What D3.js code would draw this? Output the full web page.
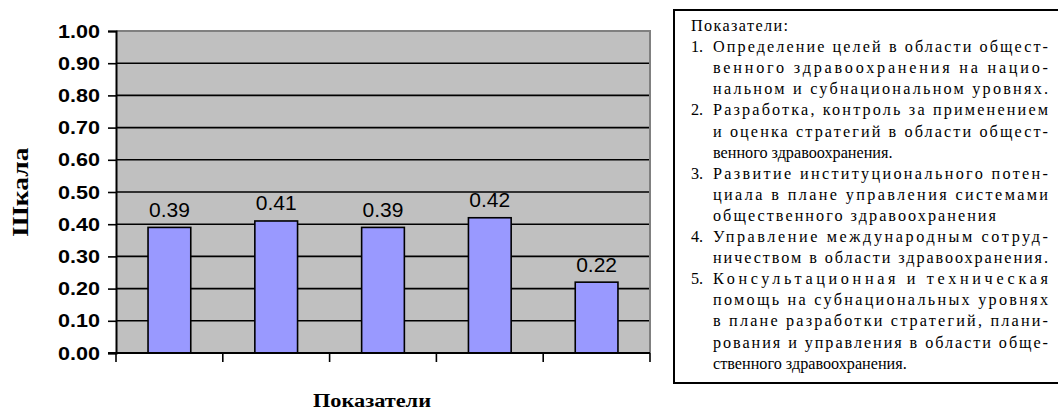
<!DOCTYPE html>
<html>
<head>
<meta charset="utf-8">
<script src="https://cdn.jsdelivr.net/npm/d3@7/dist/d3.min.js"></script>
<style>
  html, body { margin: 0; padding: 0; background: #fff; }
  svg { display: block; }
</style>
</head>
<body>
<svg id="chart" width="1058" height="411"></svg>
<script>
// Indicator numbers and their scores
const categories = ["1", "2", "3", "4", "5"];
const values = [0.39, 0.41, 0.39, 0.42, 0.22];
const yTickValues = [0, 0.1, 0.2, 0.3, 0.4, 0.5, 0.6, 0.7, 0.8, 0.9, 1.0];
const yTitle = "Шкала";
const xTitle = "Показатели";

// Explanation box: heading, then numbered items split into printed lines
const legendTitle = "Показатели:";
const legendItems = [
  ["Определение целей в области общест-", "венного здравоохранения на нацио-", "нальном и субнациональном уровнях."],
  ["Разработка, контроль за применением", "и оценка стратегий в области общест-", "венного здравоохранения."],
  ["Развитие институционального потен-", "циала в плане управления системами", "общественного здравоохранения"],
  ["Управление международным сотруд-", "ничеством в области здравоохранения."],
  ["Консультационная и техническая", "помощь на субнациональных уровнях", "в плане разработки стратегий, плани-", "рования и управления в области обще-", "ственного здравоохранения."]
];

const svg = d3.select("#chart");
const plot = { left: 116, right: 650, top: 31, bottom: 353 };

const x = d3.scaleBand()
  .domain(categories)
  .range([plot.left, plot.right])
  .paddingInner(0.6)
  .paddingOuter(0.3);

const y = d3.scaleLinear().domain([0, 1]).range([plot.bottom, plot.top]);

// Plot area background
svg.append("rect")
  .attr("x", plot.left).attr("y", plot.top)
  .attr("width", plot.right - plot.left).attr("height", plot.bottom - plot.top)
  .attr("fill", "#c0c0c0");

// Horizontal gridlines
svg.append("g")
  .selectAll("line")
  .data(yTickValues.filter(v => v > 0 && v < 1))
  .join("line")
  .attr("x1", plot.left).attr("x2", plot.right)
  .attr("y1", d => y(d)).attr("y2", d => y(d))
  .attr("stroke", "#000").attr("stroke-width", 1.6);

// Gray frame on the top and right of the plot area
svg.append("path")
  .attr("d", `M${plot.left},${plot.top}H${plot.right}V${plot.bottom}`)
  .attr("fill", "none").attr("stroke", "#808080").attr("stroke-width", 2);

// Bars
svg.append("g")
  .selectAll("rect")
  .data(values)
  .join("rect")
  .attr("x", (d, i) => x(categories[i]))
  .attr("y", d => y(d))
  .attr("width", x.bandwidth())
  .attr("height", d => y(0) - y(d))
  .attr("fill", "#9999ff")
  .attr("stroke", "#000").attr("stroke-width", 1.6);

// Value labels above bars
svg.append("g")
  .selectAll("text")
  .data(values)
  .join("text")
  .attr("x", (d, i) => x(categories[i]) + x.bandwidth() / 2)
  .attr("y", d => y(d) - 10.5)
  .attr("text-anchor", "middle")
  .attr("font-family", "Arial, 'Liberation Sans', sans-serif")
  .attr("font-size", 21)
  .attr("fill", "#000")
  .text(d => d3.format(".2f")(d));

// Y axis
const yAxis = svg.append("g")
  .attr("transform", `translate(${plot.left},0)`)
  .call(d3.axisLeft(y).tickValues(yTickValues).tickFormat(d3.format(".2f")).tickSize(8).tickPadding(8));
yAxis.select(".domain").attr("stroke", "#000").attr("stroke-width", 2);
yAxis.selectAll(".tick line").attr("stroke", "#000").attr("stroke-width", 1.6);
yAxis.selectAll(".tick text")
  .attr("font-family", "Arial, 'Liberation Sans', sans-serif")
  .attr("font-weight", "bold")
  .attr("font-size", 19)
  .attr("fill", "#000")
  .attr("textLength", 42)
  .attr("lengthAdjust", "spacingAndGlyphs");

// X axis: ticks at category boundaries, no labels
const boundaries = d3.range(categories.length + 1).map(i => plot.left + i * x.step());
svg.append("line")
  .attr("x1", plot.left - 8).attr("x2", plot.right)
  .attr("y1", y(0)).attr("y2", y(0))
  .attr("stroke", "#000").attr("stroke-width", 2);
svg.append("g")
  .selectAll("line")
  .data(boundaries)
  .join("line")
  .attr("x1", d => d).attr("x2", d => d)
  .attr("y1", y(0)).attr("y2", y(0) + 9)
  .attr("stroke", "#000").attr("stroke-width", 1.6);

// Axis titles
svg.append("text")
  .attr("transform", "translate(28,192) rotate(-90)")
  .attr("text-anchor", "middle")
  .attr("font-family", "'Liberation Serif', serif")
  .attr("font-weight", "bold")
  .attr("font-size", 24)
  .attr("textLength", 89)
  .attr("lengthAdjust", "spacingAndGlyphs")
  .text(yTitle);

svg.append("text")
  .attr("x", 372).attr("y", 407)
  .attr("text-anchor", "middle")
  .attr("font-family", "'Liberation Serif', serif")
  .attr("font-weight", "bold")
  .attr("font-size", 18)
  .attr("textLength", 118)
  .attr("lengthAdjust", "spacingAndGlyphs")
  .text(xTitle);

// Explanation box
const box = { left: 674, top: 10, right: 1062, bottom: 383 };
svg.append("rect")
  .attr("x", box.left).attr("y", box.top)
  .attr("width", box.right - box.left).attr("height", box.bottom - box.top)
  .attr("fill", "#fff").attr("stroke", "#000").attr("stroke-width", 2);

const numX = 691, textX = 713, textRight = 1048, lineStep = 21.1, firstBase = 31;
const lg = svg.append("g")
  .style("font-family", "'Liberation Serif', serif")
  .style("font-size", "16.2px")
  .attr("fill", "#000");

lg.append("text").attr("x", numX).attr("y", firstBase)
  .attr("textLength", 97).attr("lengthAdjust", "spacing")
  .text(legendTitle);

// Flatten items into printed lines; every line but the last of an item is justified
const lines = [];
legendItems.forEach((item, i) => {
  item.forEach((t, j) => lines.push({ num: j === 0 ? (i + 1) + "." : null, text: t, width: j < item.length - 1 ? textRight - textX : null }));
});
// closing lines that are still set wider than their natural length
lines[2].width = textRight - textX;
lines[8].width = 283;
lines[10].width = textRight - textX;

lines.forEach((l, k) => {
  const yy = firstBase + (k + 1) * lineStep;
  if (l.num) lg.append("text").attr("x", numX).attr("y", yy).text(l.num);
  const t = lg.append("text").attr("x", textX).attr("y", yy).text(l.text);
  if (l.width) t.attr("textLength", l.width).attr("lengthAdjust", "spacing");
});
</script>
</body>
</html>
